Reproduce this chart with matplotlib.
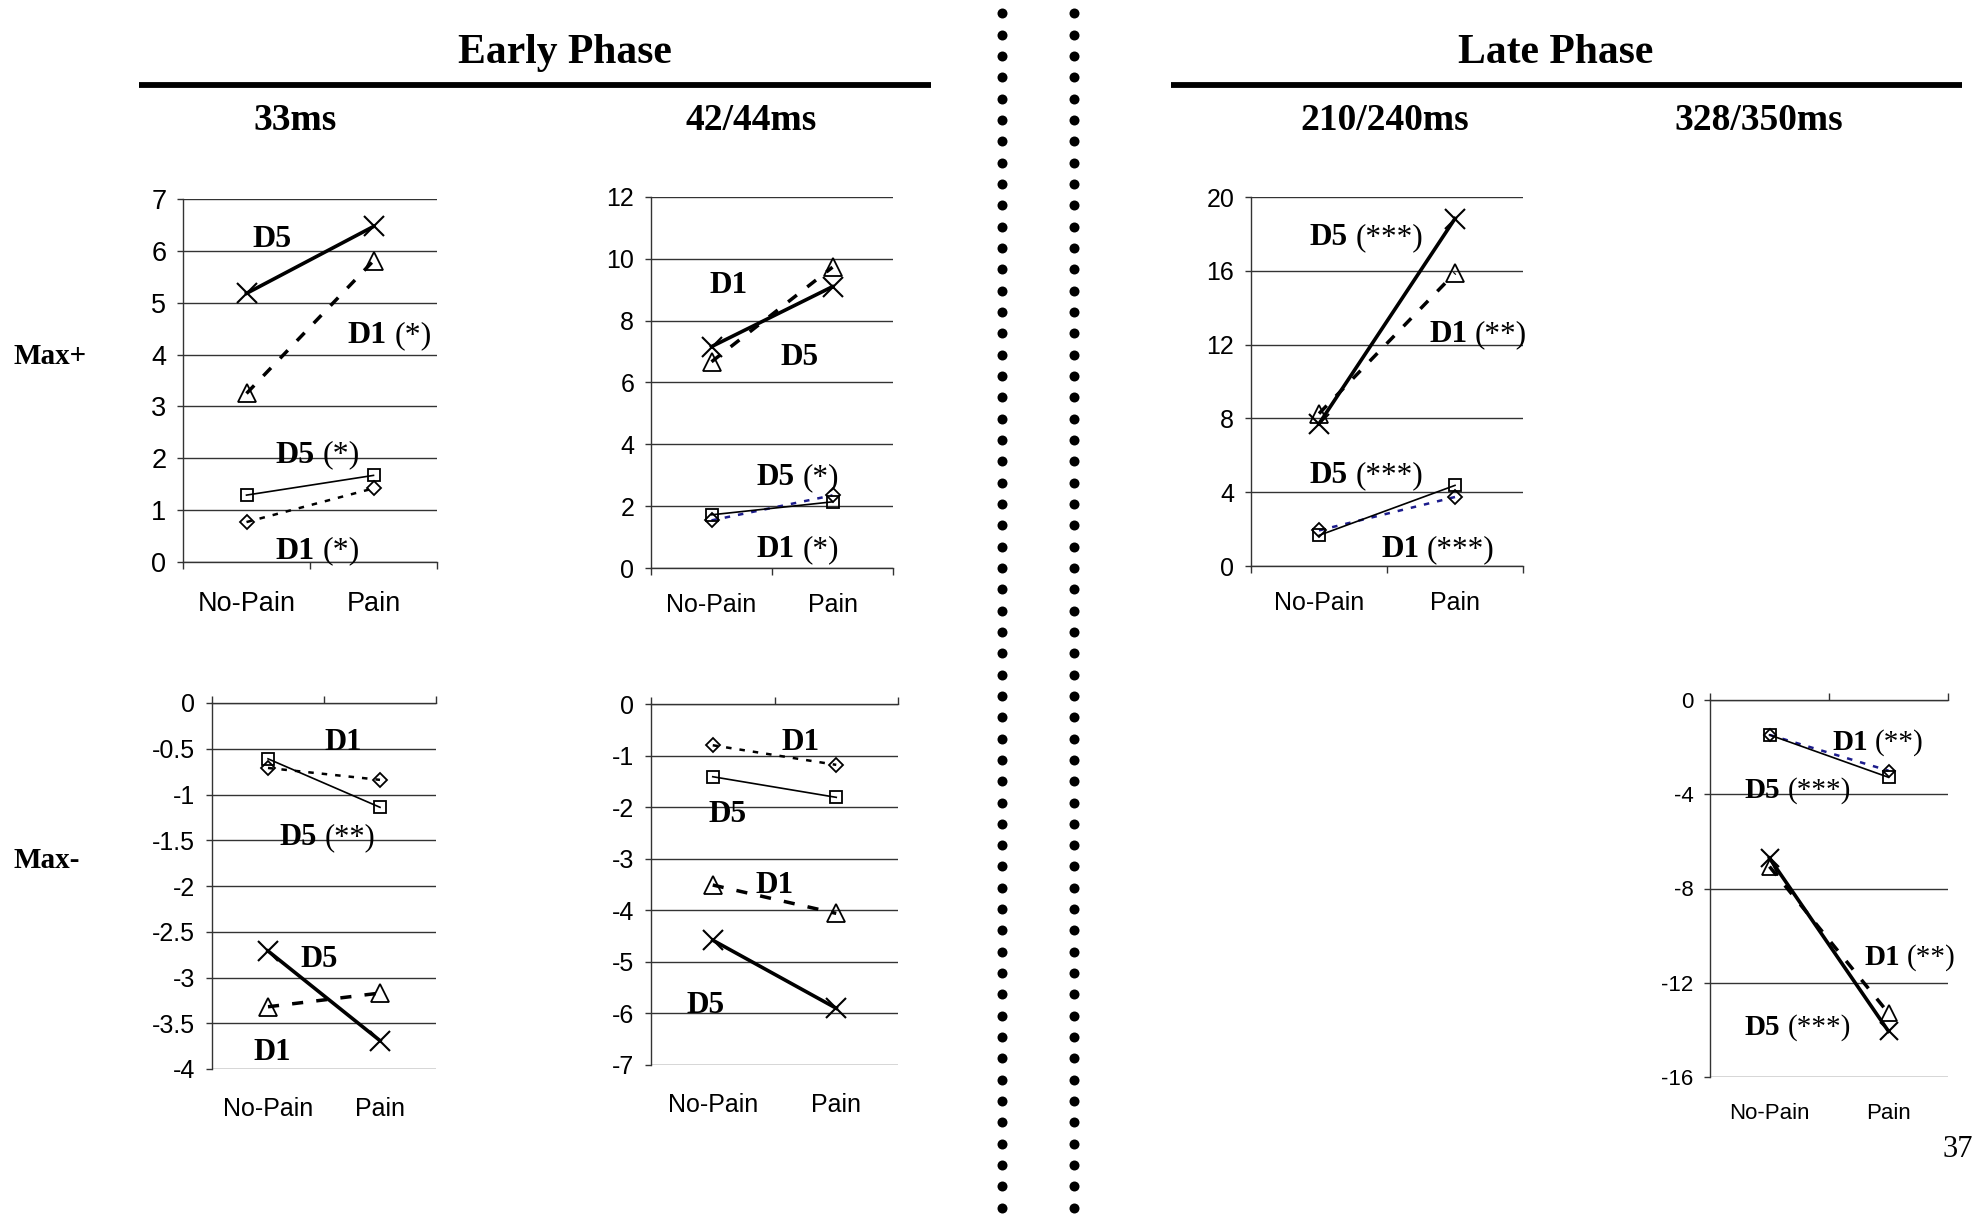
import numpy as np
import matplotlib
matplotlib.use("Agg")
import matplotlib.pyplot as plt
from matplotlib.lines import Line2D
from matplotlib.transforms import ScaledTranslation
from matplotlib.ticker import FixedLocator, FixedFormatter, NullFormatter, FuncFormatter

plt.rcParams["axes.unicode_minus"] = False

# ---------------------------------------------------------------- data
conditions = ["No-Pain", "Pain"]

# each panel: [D1 small (diamond, dotted), D5 small (square, thin solid),
#              D1 large (triangle, dashed), D5 large (cross, thick solid)]
max_pos_33ms = [[0.77, 1.42], [1.29, 1.67], [3.25, 5.81], [5.18, 6.47]]
max_pos_42_44ms = [[1.54, 2.35], [1.72, 2.14], [6.67, 9.73], [7.16, 9.10]]
max_pos_210_240ms = [[1.93, 3.74], [1.66, 4.37], [8.26, 15.88], [7.71, 18.83]]
max_neg_33ms = [[-0.71, -0.84], [-0.61, -1.14], [-3.32, -3.17], [-2.71, -3.69]]
max_neg_42_44ms = [[-0.80, -1.18], [-1.41, -1.81], [-3.51, -4.06], [-4.58, -5.90]]
max_neg_328_350ms = [[-1.48, -3.00], [-1.48, -3.28], [-7.07, -13.29], [-6.71, -14.06]]

# significance notes: (text, x in category units, y in data units)
notes_pos_33ms = [("D5", 0.70, 6.27), ("D1 (*)", 1.63, 4.43),
                  ("D5 (*)", 1.06, 2.12), ("D1 (*)", 1.06, 0.27)]
notes_pos_42_44ms = [("D1", 0.64, 9.22), ("D5", 1.23, 6.89),
                     ("D5 (*)", 1.21, 3.01), ("D1 (*)", 1.21, 0.68)]
notes_pos_210_240ms = [("D5 (***)", 0.85, 17.94), ("D1 (**)", 1.67, 12.68),
                       ("D5 (***)", 0.85, 5.04), ("D1 (***)", 1.375, 1.03)]
notes_neg_33ms = [("D1", 1.17, -0.40), ("D5 (**)", 1.03, -1.44),
                  ("D5", 0.96, -2.78), ("D1", 0.54, -3.79)]
notes_neg_42_44ms = [("D1", 1.21, -0.70), ("D5", 0.62, -2.09),
                     ("D1", 1.00, -3.47), ("D5", 0.44, -5.80)]
notes_neg_328_350ms = [("D1 (**)", 1.41, -1.70), ("D5 (***)", 0.74, -3.73),
                       ("D1 (**)", 1.68, -10.82), ("D5 (***)", 0.74, -13.79)]

phase_titles = ["Early Phase", "Late Phase"]
window_titles = ["33ms", "42/44ms", "210/240ms", "328/350ms"]
row_titles = ["Max+", "Max-"]
page_number = "37"

# ---------------------------------------------------------------- layout
W, H = 1977, 1215
DPI = 100
fig = plt.figure(figsize=(W / DPI, H / DPI), dpi=DPI)
fig.patch.set_facecolor("white")

SERIF = "Liberation Serif"
SANS = "Liberation Sans"
GRID = "#333333"
NAVY = "#1c1c8c"

pending_notes = []


def add_note(ax, text, x, y, fs):
    head, _, tail = text.partition(" ")
    t1 = ax.text(x, y, head, fontsize=fs, fontweight="bold", family=SERIF,
                 ha="left", va="baseline")
    t2 = None
    if tail:
        t2 = ax.text(x, y, tail, fontsize=fs, family=SERIF,
                     ha="left", va="baseline")
    pending_notes.append((ax, t1, t2, fs))


def center_notes():
    r = fig.canvas.get_renderer()
    for ax, t1, t2, fs in pending_notes:
        w1 = t1.get_window_extent(r).width
        gap = 0.25 * fs * DPI / 72
        w2 = t2.get_window_extent(r).width + gap if t2 is not None else 0.0
        total = w1 + w2
        dy = -0.33 * fs / 72
        t1.set_transform(ax.transData + ScaledTranslation(-total / 2 / DPI, dy, fig.dpi_scale_trans))
        if t2 is not None:
            t2.set_transform(ax.transData + ScaledTranslation((w1 + gap - total / 2) / DPI, dy,
                                                              fig.dpi_scale_trans))


def panel(rect_px, series, ylim, ystep, negative, dotted_color, tick_fs, label_pad,
          notes, note_fs, scale=1.0):
    x0, y0, x1, y1 = rect_px
    ax = fig.add_axes([x0 / W, 1 - y1 / H, (x1 - x0) / W, (y1 - y0) / H])
    ax.set_xlim(0, 2)
    ax.set_ylim(*ylim)
    ax.set_axisbelow(True)

    ticks = np.arange(ylim[0], ylim[1] + ystep / 2, ystep)
    ax.yaxis.set_major_locator(FixedLocator(ticks))
    ax.yaxis.set_major_formatter(FuncFormatter(lambda v, p: "0" if abs(v) < 1e-9 else f"{v:g}"))
    ax.yaxis.grid(True, color=GRID, lw=1.0)
    ax.tick_params(axis="y", direction="out", length=4.5, width=1.0, color=GRID,
                   labelsize=tick_fs, pad=7.5)

    ax.xaxis.set_major_locator(FixedLocator([0, 1, 2]))
    ax.xaxis.set_major_formatter(NullFormatter())
    ax.xaxis.set_minor_locator(FixedLocator([0.5, 1.5]))
    ax.xaxis.set_minor_formatter(FixedFormatter(conditions))
    if negative:
        ax.tick_params(axis="x", which="major", top=True, bottom=False, direction="out",
                       length=5, width=1.0, color=GRID, labeltop=False, labelbottom=False)
    else:
        ax.tick_params(axis="x", which="major", top=False, bottom=True, direction="out",
                       length=5, width=1.0, color=GRID, labelbottom=False)
    ax.tick_params(axis="x", which="minor", bottom=True, top=False, length=0,
                   labelbottom=True, labelsize=tick_fs, pad=label_pad)
    for lbl in ax.get_xticklabels(minor=True) + ax.get_yticklabels():
        lbl.set_family(SANS)

    for side in ("top", "bottom", "left", "right"):
        ax.spines[side].set_color(GRID)
        ax.spines[side].set_linewidth(1.0)
    ax.spines["right"].set_visible(False)
    ax.spines["bottom" if negative else "top"].set_visible(False)

    xs = [0.5, 1.5]
    d1_small, d5_small, d1_large, d5_large = series
    ax.plot(xs, d1_small, color=dotted_color, lw=1.8, linestyle=(0, (2.2, 3.2)),
            marker="D", ms=6.8 * scale, mfc="none", mec="black", mew=1.3, zorder=3)
    ax.plot(xs, d5_small, color="black", lw=1.2, marker="s", ms=9 * scale,
            mfc="none", mec="black", mew=1.3, zorder=4)
    ax.plot(xs, d1_large, color="black", lw=2.5, linestyle=(0, (3.2, 3.8)),
            marker="^", ms=12.5 * scale, mfc="none", mec="black", mew=1.3, zorder=3)
    ax.plot(xs, d5_large, color="black", lw=2.6, marker="x", ms=14 * scale,
            mec="black", mew=1.5, zorder=4)

    for text, nx, ny in notes:
        add_note(ax, text, nx, ny, note_fs)
    return ax


panel((183, 199, 437, 562), max_pos_33ms, (0, 7), 1, False, "black", 19.5, 21,
      notes_pos_33ms, 23)
panel((651, 197, 893, 568), max_pos_42_44ms, (0, 12), 2, False, NAVY, 18, 18,
      notes_pos_42_44ms, 22.5)
panel((1251, 197, 1523, 566), max_pos_210_240ms, (0, 20), 4, False, NAVY, 18, 18,
      notes_pos_210_240ms, 22.5)
panel((212, 703, 436, 1069), max_neg_33ms, (-4, 0), 0.5, True, "black", 18, 20.5,
      notes_neg_33ms, 22)
panel((651, 704, 898, 1065), max_neg_42_44ms, (-7, 0), 1, True, "black", 18, 20,
      notes_neg_42_44ms, 22.5)
panel((1710, 700, 1948, 1077), max_neg_328_350ms, (-16, 0), 4, True, NAVY, 16, 18.5,
      notes_neg_328_350ms, 21, scale=0.95)

# ---------------------------------------------------------------- headings
def fig_text(x_px, y_px, s, **kw):
    fig.text(x_px / W, 1 - y_px / H, s, **kw)


fig_text(565, 63, phase_titles[0], fontsize=30, fontweight="bold", family=SERIF,
         ha="center", va="baseline")
fig_text(1556, 63, phase_titles[1], fontsize=30, fontweight="bold", family=SERIF,
         ha="center", va="baseline")
for cx, title in zip([295, 751, 1385, 1759], window_titles):
    fig_text(cx, 130, title, fontsize=27, fontweight="bold", family=SERIF,
             ha="center", va="baseline")
fig_text(13, 364, row_titles[0], fontsize=21, fontweight="bold", family=SERIF,
         ha="left", va="baseline")
fig_text(13, 868, row_titles[1], fontsize=21, fontweight="bold", family=SERIF,
         ha="left", va="baseline")
fig_text(1973, 1157, page_number, fontsize=22, family=SERIF, ha="right", va="baseline")

# rules under the phase headings
for xa, xb in [(139, 931), (1171, 1962)]:
    fig.add_artist(Line2D([xa / W, xb / W], [1 - 84.5 / H] * 2, lw=4.2, color="black",
                          transform=fig.transFigure, solid_capstyle="butt"))

# dotted divider between the phases
dot_y = np.arange(13.3, 1212, 21.33)
for dx in (1002, 1074):
    fig.add_artist(Line2D(np.full_like(dot_y, dx / W), 1 - dot_y / H, ls="none",
                          marker="o", ms=7.2, color="black", mew=0,
                          transform=fig.transFigure))

fig.canvas.draw()
center_notes()
fig.savefig("out.png", dpi=DPI, facecolor="white")
